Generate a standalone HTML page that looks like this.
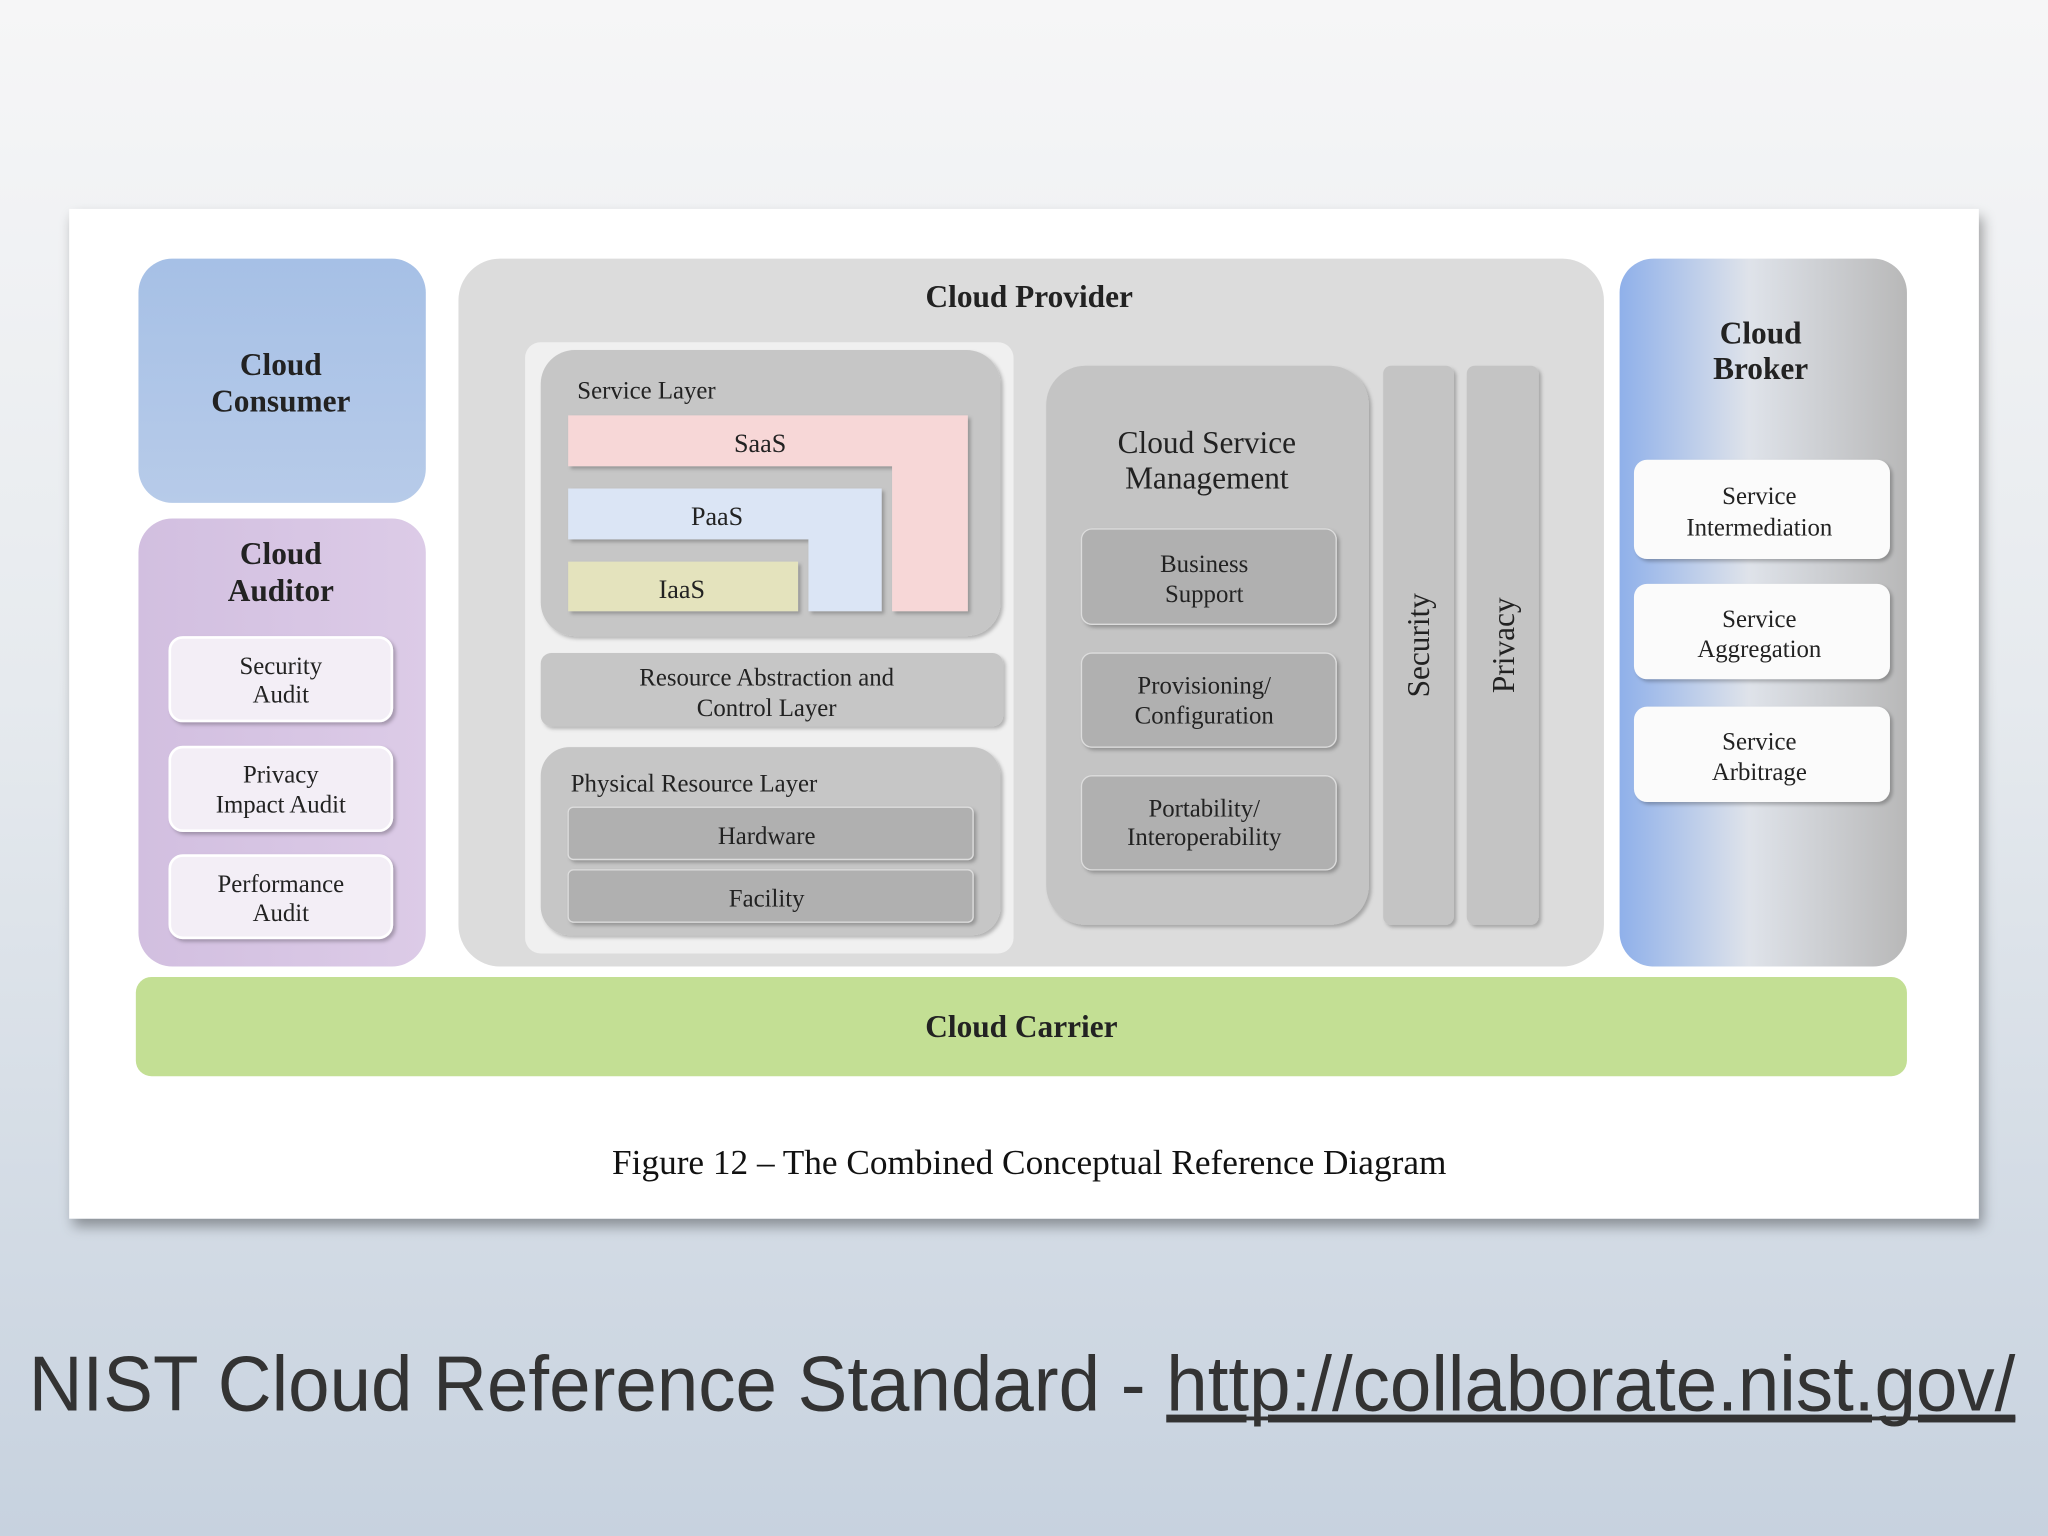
<!DOCTYPE html>
<html><head><meta charset="utf-8"><style>html,body{margin:0;padding:0;width:2048px;height:1536px;overflow:hidden}svg{display:block}</style></head>
<body>
<svg width="2048" height="1536" viewBox="0 0 1568 1176" xmlns="http://www.w3.org/2000/svg">
<defs>
<linearGradient id="bg" x1="0" y1="0" x2="0" y2="1"><stop offset="0" stop-color="#f6f6f7"/><stop offset="0.45" stop-color="#e6eaee"/><stop offset="1" stop-color="#c7d2df"/></linearGradient>
<linearGradient id="cons" x1="0" y1="0" x2="0" y2="1"><stop offset="0" stop-color="#a6c0e6"/><stop offset="1" stop-color="#b7cbe9"/></linearGradient>
<linearGradient id="brk" x1="0" y1="0" x2="1" y2="0"><stop offset="0" stop-color="#8fb0ea"/><stop offset="0.45" stop-color="#dfe3ea"/><stop offset="1" stop-color="#b8b8b8"/></linearGradient>
<linearGradient id="aud" x1="0" y1="0" x2="1" y2="0"><stop offset="0" stop-color="#d2bfe0"/><stop offset="1" stop-color="#dccbe7"/></linearGradient>
<filter id="sh" x="-5%" y="-5%" width="110%" height="115%"><feDropShadow dx="3" dy="6" stdDeviation="5" flood-color="#000" flood-opacity="0.35"/></filter>
<filter id="sh2" x="-10%" y="-10%" width="120%" height="130%"><feDropShadow dx="2" dy="2" stdDeviation="1.5" flood-color="#000" flood-opacity="0.25"/></filter>
</defs>
<rect width="1568" height="1176" fill="url(#bg)"/>
<rect x="53" y="160" width="1462" height="773" fill="#fff" filter="url(#sh)"/>
<g font-family="Liberation Serif, serif" fill="#222" text-anchor="middle">
<!-- consumer -->
<rect x="106" y="198" width="220" height="187" rx="26" fill="url(#cons)"/>
<text x="215" y="287" font-size="24" font-weight="bold">Cloud</text>
<text x="215" y="315" font-size="24" font-weight="bold">Consumer</text>
<!-- auditor -->
<rect x="106" y="397" width="220" height="343" rx="26" fill="url(#aud)"/>
<text x="215" y="432" font-size="24" font-weight="bold">Cloud</text>
<text x="215" y="460" font-size="24" font-weight="bold">Auditor</text>
<g font-size="19">
<rect x="130" y="488" width="170" height="64" rx="10" fill="#f3eef6" stroke="#fff" stroke-width="2" filter="url(#sh2)"/>
<text x="215" y="516">Security</text><text x="215" y="538">Audit</text>
<rect x="130" y="572" width="170" height="64" rx="10" fill="#f3eef6" stroke="#fff" stroke-width="2" filter="url(#sh2)"/>
<text x="215" y="599">Privacy</text><text x="215" y="622">Impact Audit</text>
<rect x="130" y="655" width="170" height="63" rx="10" fill="#f3eef6" stroke="#fff" stroke-width="2" filter="url(#sh2)"/>
<text x="215" y="683">Performance</text><text x="215" y="705">Audit</text>
</g>
<!-- provider -->
<rect x="351" y="198" width="877" height="542" rx="32" fill="#dcdcdc"/>
<text x="788" y="235" font-size="24" font-weight="bold">Cloud Provider</text>
<rect x="402" y="262" width="374" height="468" rx="12" fill="#f0f0f0"/>
<rect x="414" y="268" width="352" height="219" rx="26" fill="#c6c6c6" filter="url(#sh2)"/>
<text x="442" y="305" font-size="19" text-anchor="start">Service Layer</text>
<path d="M435 318 H741 V468 H683 V357 H435 Z" fill="#f7d7d7" filter="url(#sh2)"/>
<text x="582" y="346" font-size="20">SaaS</text>
<path d="M435 374 H675 V468 H619 V413 H435 Z" fill="#dbe5f5" filter="url(#sh2)"/>
<text x="549" y="402" font-size="20">PaaS</text>
<rect x="435" y="430" width="176" height="38" fill="#e4e3bd" filter="url(#sh2)"/>
<text x="522" y="458" font-size="20">IaaS</text>
<rect x="414" y="500" width="354" height="56" rx="8" fill="#c6c6c6" filter="url(#sh2)"/>
<text x="587" y="525" font-size="19">Resource Abstraction and</text>
<text x="587" y="548" font-size="19">Control Layer</text>
<rect x="414" y="572" width="352" height="144" rx="22" fill="#c6c6c6" filter="url(#sh2)"/>
<text x="437" y="606" font-size="19" text-anchor="start">Physical Resource Layer</text>
<rect x="435" y="618" width="310" height="40" rx="4" fill="#b0b0b0" stroke="#ddd" filter="url(#sh2)"/>
<text x="587" y="646" font-size="19">Hardware</text>
<rect x="435" y="666" width="310" height="40" rx="4" fill="#b0b0b0" stroke="#ddd" filter="url(#sh2)"/>
<text x="587" y="694" font-size="19">Facility</text>
<!-- CSM -->
<rect x="801" y="280" width="247" height="428" rx="30" fill="#c4c4c4" filter="url(#sh2)"/>
<text x="924" y="347" font-size="24">Cloud Service</text>
<text x="924" y="374" font-size="24">Management</text>
<g font-size="19">
<rect x="828" y="405" width="195" height="73" rx="8" fill="#b0b0b0" stroke="#ddd" filter="url(#sh2)"/>
<text x="922" y="438">Business</text><text x="922" y="461">Support</text>
<rect x="828" y="500" width="195" height="72" rx="8" fill="#b0b0b0" stroke="#ddd" filter="url(#sh2)"/>
<text x="922" y="531">Provisioning/</text><text x="922" y="554">Configuration</text>
<rect x="828" y="594" width="195" height="72" rx="8" fill="#b0b0b0" stroke="#ddd" filter="url(#sh2)"/>
<text x="922" y="625">Portability/</text><text x="922" y="647">Interoperability</text>
</g>
<rect x="1059" y="280" width="54" height="428" rx="6" fill="#c4c4c4" filter="url(#sh2)"/>
<text transform="translate(1094 494) rotate(-90)" font-size="24">Security</text>
<rect x="1123" y="280" width="55" height="428" rx="6" fill="#c4c4c4" filter="url(#sh2)"/>
<text transform="translate(1159 494) rotate(-90)" font-size="24">Privacy</text>
<!-- broker -->
<rect x="1240" y="198" width="220" height="542" rx="26" fill="url(#brk)"/>
<text x="1348" y="263" font-size="24" font-weight="bold">Cloud</text>
<text x="1348" y="290" font-size="24" font-weight="bold">Broker</text>
<g font-size="19">
<rect x="1251" y="352" width="196" height="76" rx="10" fill="#fbfbfb" filter="url(#sh2)"/>
<text x="1347" y="386">Service</text><text x="1347" y="410">Intermediation</text>
<rect x="1251" y="447" width="196" height="73" rx="10" fill="#fbfbfb" filter="url(#sh2)"/>
<text x="1347" y="480">Service</text><text x="1347" y="503">Aggregation</text>
<rect x="1251" y="541" width="196" height="73" rx="10" fill="#fbfbfb" filter="url(#sh2)"/>
<text x="1347" y="574">Service</text><text x="1347" y="597">Arbitrage</text>
</g>
<!-- carrier -->
<rect x="104" y="748" width="1356" height="76" rx="12" fill="#c3df94"/>
<text x="782" y="794" font-size="24" font-weight="bold">Cloud Carrier</text>
<text x="788" y="899" font-size="27" fill="#111">Figure 12 – The Combined Conceptual Reference Diagram</text>
</g>
<text x="22" y="1080" font-family="Liberation Sans, sans-serif" font-size="60" fill="#333" textLength="1521" lengthAdjust="spacingAndGlyphs">NIST Cloud Reference Standard - <tspan text-decoration="underline">http://collaborate.nist.gov/</tspan></text>
<line x1="895" y1="1086" x2="1543" y2="1086" stroke="#333" stroke-width="3"/>
</svg>
</body></html>
